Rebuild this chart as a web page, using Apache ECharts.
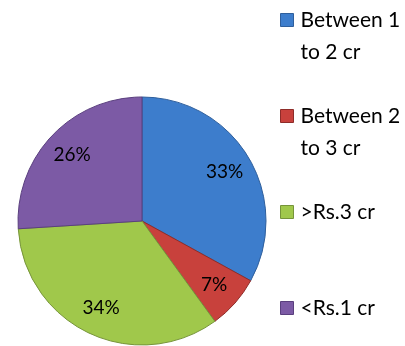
<!DOCTYPE html>
<html>
<head>
<meta charset="utf-8">
<script src="https://cdn.jsdelivr.net/npm/echarts@6/dist/echarts.min.js"></script>
<style>html,body{margin:0;padding:0;background:#fff}#c{width:405px;height:346px}</style>
</head>
<body>
<div id="c"></div>
<script>
var categories = ['Between 1 to 2 cr', 'Between 2 to 3 cr', '>Rs.3 cr', '<Rs.1 cr'];
var legendLines = [['Between 1', 'to 2 cr'], ['Between 2', 'to 3 cr'], ['>Rs.3 cr', ''], ['<Rs.1 cr', '']];
var shares = [33, 7, 34, 26];
var colors = ['#3d7dcc', '#c8413c', '#a0c84b', '#7c5aa5'];
var borders = ['#2f5f9c', '#8e2c29', '#76943a', '#5a3f7e'];

var chart = echarts.init(document.getElementById('c'), null, {renderer: 'canvas'});
var R = 124;
var mainData = categories.map(function (n, i) {
  return {name: n, value: shares[i], itemStyle: {color: colors[i], borderColor: borders[i], borderWidth: 1}};
});
var labelData = categories.map(function (n, i) { return {name: n, value: shares[i]}; });

chart.setOption({
  animation: false,
  color: colors,
  legend: {
    type: 'plain', orient: 'vertical', left: 280, top: -28, height: 420, padding: 0, itemGap: 0,
    itemWidth: 13, itemHeight: 13, icon: 'rect', selectedMode: false,
    data: categories.map(function (n, i) { return {name: n, itemStyle: {color: colors[i], borderColor: borders[i], borderWidth: 1}}; }),
    formatter: function (name) {
      var l = legendLines[categories.indexOf(name)];
      return ' \n' + l[0] + '\n' + (l[1] || ' ');
    },
    textStyle: {fontFamily: 'Lato', fontSize: 21, color: '#000', lineHeight: 32, padding: [0, 0, 0, 2]}
  },
  series: [{
    type: 'pie', center: [142, 221], radius: [0, R], startAngle: 90, clockwise: true,
    label: {show: false}, labelLine: {show: false}, silent: true,
    data: mainData
  }, {
    type: 'pie', center: [142, 221], radius: [0, R * 1.5], startAngle: 90, clockwise: true,
    silent: true, itemStyle: {color: 'rgba(0,0,0,0)'}, emphasis: {disabled: true},
    label: {show: true, position: 'inside', formatter: '{c}%', fontFamily: 'Lato', fontSize: 19, color: '#000'},
    labelLine: {show: false},
    data: labelData
  }]
});
</script>
</body>
</html>
